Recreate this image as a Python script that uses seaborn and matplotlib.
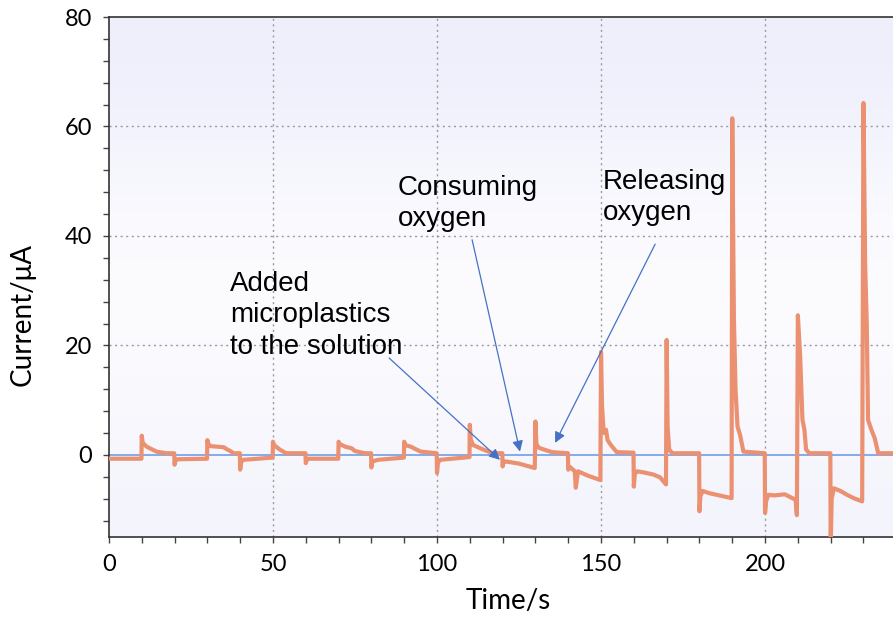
import numpy as np
import pandas as pd
import seaborn as sns
import matplotlib.pyplot as plt

# chronoamperometry trace (s, uA)
time_s = [
    0, 9.9,
    10, 10.3, 11.5, 14.5, 17.5, 19.9,
    20, 20.3, 21, 29.9,
    30, 30.3, 31, 35, 36, 37, 38, 39.9,
    40, 40.3, 41, 49.9,
    50, 50.3, 52, 54, 59.9,
    60, 60.3, 61, 69.9,
    70, 70.3, 72, 74, 75, 78, 79.9,
    80, 80.3, 82, 89.9,
    90, 90.3, 92, 95, 99.9,
    100, 100.3, 101, 109.9,
    110, 110.3, 111, 114, 117, 119.9,
    120, 120.3, 121, 125, 129.8,
    130, 130.3, 131, 135, 139.9,
    140, 140.5, 142, 142.3, 143, 146, 149.8,
    150, 150.3, 150.8, 151.5, 152, 153, 154.8, 159.9,
    160, 160.3, 161, 163, 166, 168, 169.8,
    170, 170.3, 170.8, 171.8, 179.9,
    180, 180.3, 181, 183, 186, 189.8,
    190, 190.5, 191, 191.6, 192.4, 193.4, 199.9,
    200, 200.3, 201, 203, 206, 208, 209.3, 209.7,
    210, 210.7, 211.4, 212, 212.5, 213.5, 219.9,
    220, 220.3, 221, 223, 225, 227, 229.6,
    230, 230.5, 231, 231.4, 232.4, 233.4, 234.5, 239,
]
current_ua = [
    -0.7, -0.7,
    3.5, 2.2, 1.5, 0.6, 0.3, 0.3,
    -1.8, -1.0, -0.8, -0.7,
    2.7, 2.0, 1.6, 1.4, 1.0, 0.7, 0.3, 0.3,
    -2.7, -1.3, -0.9, -0.5,
    2.4, 1.8, 1.0, 0.3, 0.3,
    -1.5, -0.9, -0.7, -0.7,
    2.4, 2.0, 1.5, 1.2, 0.7, 0.3, 0.3,
    -2.3, -1.2, -0.9, -0.5,
    2.4, 1.8, 1.5, 0.6, 0.3,
    -3.3, -1.4, -0.9, -0.4,
    5.5, 2.8, 1.8, 1.0, 0.3, 0.3,
    -2.1, -1.3, -1.2, -1.6, -2.4,
    6.1, 2.0, 1.3, 0.5, 0.3,
    -2.7, -2.2, -3.0, -6.0, -3.0, -3.8, -4.6,
    18.8, 9.0, 4.0, 4.6, 2.7, 1.8, 0.5, 0.4,
    -5.8, -3.5, -3.0, -3.2, -3.6, -4.1, -5.4,
    21.0, 5.0, 0.9, 0.3, 0.3,
    -10.3, -7.5, -6.6, -7.0, -7.4, -7.9,
    61.5, 25.0, 12.0, 5.2, 3.6, 0.6, 0.3,
    -10.6, -8.5, -7.3, -7.4, -7.2, -7.8, -8.2, -11.0,
    25.5, 18.0, 6.4, 4.6, 1.0, 0.3, 0.3,
    -17.0, -8.0, -6.1, -6.6, -7.3, -7.9, -8.5,
    64.3, 35.0, 24.0, 6.4, 4.6, 3.1, 0.3, 0.3,
]

notes = ["Added\nmicroplastics\nto the solution", "Consuming\noxygen", "Releasing\noxygen"]
note_xy = [(37, 33.6), (88, 51.2), (150.5, 52.3)]
arrow_from = [(85.4, 17.7), (110.7, 39.3), (166.5, 38.5)]
arrow_to = [(119.2, -0.9), (125.3, 0.6), (136.0, 2.2)]

df = pd.DataFrame({"Time/s": time_s, "Current/μA": current_ua})

sns.set_style("ticks")
plt.rcParams["font.family"] = ["Lato", "DejaVu Sans"]

fig = plt.figure(figsize=(8.93, 6.19), dpi=100)
ax = fig.add_axes([0.122, 0.1325, 0.878, 0.84])

# soft lavender background gradient
grad = np.array([
    [239, 239, 252], [242, 242, 253], [247, 247, 254], [251, 251, 255],
    [252, 252, 255], [250, 250, 254], [247, 247, 253], [244, 244, 252],
]) / 255.0
ax.imshow(grad[:, None, :], extent=[0, 1, 0, 1], transform=ax.transAxes,
          aspect="auto", interpolation="bicubic", zorder=0)

ax.axhline(0, color="#6f9ee8", lw=1.2, zorder=2)
sns.lineplot(data=df, x="Time/s", y="Current/μA", ax=ax, color="#eb9070",
             lw=3, zorder=3, estimator=None, sort=False)

ax.set_xlim(0, 239)
ax.set_ylim(-15, 80)
ax.set_xticks([0, 50, 100, 150, 200])
ax.set_xticks(np.arange(0, 240, 10), minor=True)
ax.set_yticks([0, 20, 40, 60, 80])
ax.set_yticks(np.arange(-12, 80, 4), minor=True)
for v in [50, 100, 150, 200]:
    ax.axvline(v, color="#9a9a9a", ls=(0, (1.5, 2.5)), lw=1, zorder=1)
for v in [20, 40, 60]:
    ax.axhline(v, color="#9a9a9a", ls=(0, (1.5, 2.5)), lw=1, zorder=1)

ax.tick_params(which="both", direction="out", length=4, width=1, color="#444444")
ax.tick_params(axis="both", labelsize=17, pad=8, labelcolor="black")
ax.set_xlabel("Time/s", fontsize=20, color="black")
ax.set_ylabel("Current/μA", fontsize=20, color="black")
ax.xaxis.set_label_coords(0.509, -0.098)
ax.yaxis.set_label_coords(-0.093, 0.427)
for s in ["left", "bottom", "top"]:
    ax.spines[s].set_color("#333333")
    ax.spines[s].set_linewidth(1.2)
ax.spines["right"].set_visible(False)

for txt, xy in zip(notes, note_xy):
    ax.text(xy[0], xy[1], txt, fontsize=20, family=["Liberation Sans", "DejaVu Sans"],
            ha="left", va="top", linespacing=1.27, color="black", zorder=5)
for p0, p1 in zip(arrow_from, arrow_to):
    ax.annotate("", xy=p1, xytext=p0, zorder=5,
                arrowprops=dict(arrowstyle="-|>", color="#4472c4", lw=0.9,
                                mutation_scale=16, shrinkA=0, shrinkB=0))

fig.savefig("out.png", dpi=100)
